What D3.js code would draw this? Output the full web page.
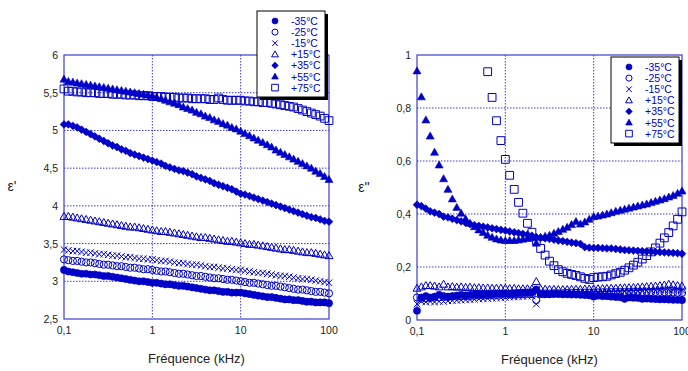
<!DOCTYPE html>
<html>
<head>
<meta charset="utf-8">
<script src="https://cdn.jsdelivr.net/npm/d3@7"></script>
<style>
  body { margin: 0; background: #fff; }
  svg { font-family: "Liberation Sans", Arial, sans-serif; }
</style>
</head>
<body>
<script>
// frequencies (kHz), 20 points per decade
var freq = [0.1, 0.112, 0.126, 0.141, 0.158, 0.178, 0.2, 0.224, 0.251, 0.282, 0.316, 0.355, 0.398, 0.447, 0.501, 0.562, 0.631, 0.708, 0.794, 0.891,
  1, 1.12, 1.26, 1.41, 1.58, 1.78, 2, 2.24, 2.51, 2.82, 3.16, 3.55, 3.98, 4.47, 5.01, 5.62, 6.31, 7.08, 7.94, 8.91,
  10, 11.2, 12.6, 14.1, 15.8, 17.8, 20, 22.4, 25.1, 28.2, 31.6, 35.5, 39.8, 44.7, 50.1, 56.2, 63.1, 70.8, 79.4, 89.1, 100]

var labels = ["-35°C", "-25°C", "-15°C", "+15°C", "+35°C", "+55°C", "+75°C"]
var shapes = ["circleFill", "circle", "cross", "triangle", "diamondFill", "triangleFill", "square"]

var xTicks = [0.1, 1, 10, 100]
var xTickLabels = ["0,1", "1", "10", "100"]
var y1Ticks = [2.5, 3, 3.5, 4, 4.5, 5, 5.5, 6]
var y1TickLabels = ["2,5", "3", "3,5", "4", "4,5", "5", "5,5", "6"]
var y2Ticks = [0, 0.2, 0.4, 0.6, 0.8, 1]
var y2TickLabels = ["0", "0,2", "0,4", "0,6", "0,8", "1"]

// epsilon' (real part)
var ep_m35 = [3.15, 3.13, 3.12, 3.11, 3.10, 3.10, 3.09, 3.09, 3.08, 3.07, 3.07, 3.06, 3.05, 3.04, 3.03, 3.02, 3.01, 3.00, 3.00, 2.99,
  2.98, 2.98, 2.97, 2.96, 2.96, 2.95, 2.94, 2.94, 2.93, 2.92, 2.91, 2.90, 2.89, 2.88, 2.88, 2.87, 2.86, 2.86, 2.85, 2.85,
  2.85, 2.84, 2.83, 2.82, 2.81, 2.80, 2.79, 2.79, 2.78, 2.77, 2.76, 2.76, 2.75, 2.75, 2.74, 2.73, 2.73, 2.72, 2.72, 2.72, 2.71]
var ep_m25 = [3.29, 3.28, 3.27, 3.27, 3.26, 3.25, 3.25, 3.24, 3.23, 3.22, 3.22, 3.21, 3.20, 3.20, 3.19, 3.18, 3.18, 3.17, 3.16, 3.16,
  3.15, 3.14, 3.13, 3.13, 3.12, 3.11, 3.10, 3.10, 3.09, 3.08, 3.07, 3.07, 3.06, 3.05, 3.04, 3.04, 3.03, 3.02, 3.02, 3.01,
  3.00, 2.99, 2.98, 2.98, 2.97, 2.96, 2.95, 2.94, 2.94, 2.93, 2.92, 2.91, 2.90, 2.89, 2.89, 2.88, 2.87, 2.86, 2.86, 2.85, 2.84]
var ep_m15 = [3.42, 3.41, 3.40, 3.40, 3.39, 3.38, 3.38, 3.37, 3.36, 3.36, 3.35, 3.34, 3.34, 3.33, 3.32, 3.32, 3.31, 3.30, 3.30, 3.29,
  3.29, 3.28, 3.27, 3.27, 3.26, 3.25, 3.24, 3.24, 3.23, 3.22, 3.22, 3.21, 3.20, 3.19, 3.19, 3.18, 3.17, 3.17, 3.16, 3.15,
  3.15, 3.14, 3.13, 3.12, 3.11, 3.11, 3.10, 3.09, 3.08, 3.07, 3.07, 3.06, 3.05, 3.04, 3.03, 3.03, 3.02, 3.01, 3.00, 2.99, 2.98]
var ep_p15 = [3.86, 3.86, 3.85, 3.84, 3.83, 3.82, 3.81, 3.80, 3.79, 3.78, 3.77, 3.76, 3.75, 3.74, 3.73, 3.72, 3.72, 3.71, 3.70, 3.69,
  3.68, 3.67, 3.66, 3.66, 3.65, 3.64, 3.63, 3.62, 3.61, 3.60, 3.59, 3.58, 3.58, 3.57, 3.56, 3.55, 3.54, 3.53, 3.53, 3.52,
  3.51, 3.50, 3.49, 3.49, 3.48, 3.47, 3.46, 3.45, 3.44, 3.43, 3.42, 3.42, 3.41, 3.40, 3.39, 3.38, 3.38, 3.37, 3.36, 3.35, 3.34]
var ep_p35 = [5.08, 5.08, 5.06, 5.04, 5.01, 4.98, 4.95, 4.92, 4.89, 4.86, 4.83, 4.80, 4.78, 4.75, 4.73, 4.70, 4.68, 4.66, 4.64, 4.62,
  4.60, 4.58, 4.56, 4.53, 4.51, 4.49, 4.47, 4.46, 4.44, 4.42, 4.39, 4.37, 4.35, 4.33, 4.30, 4.28, 4.26, 4.24, 4.22, 4.19,
  4.16, 4.15, 4.13, 4.11, 4.09, 4.07, 4.05, 4.03, 4.01, 3.99, 3.97, 3.95, 3.93, 3.91, 3.89, 3.87, 3.85, 3.84, 3.82, 3.80, 3.79]
var ep_p55 = [5.68, 5.65, 5.64, 5.63, 5.62, 5.61, 5.60, 5.59, 5.58, 5.57, 5.56, 5.55, 5.54, 5.53, 5.52, 5.51, 5.50, 5.49, 5.48, 5.47,
  5.46, 5.44, 5.42, 5.40, 5.38, 5.36, 5.34, 5.31, 5.29, 5.27, 5.24, 5.22, 5.19, 5.17, 5.14, 5.12, 5.09, 5.07, 5.04, 5.02,
  4.99, 4.96, 4.93, 4.90, 4.87, 4.84, 4.81, 4.78, 4.74, 4.71, 4.68, 4.65, 4.62, 4.59, 4.56, 4.53, 4.50, 4.46, 4.43, 4.39, 4.35]
var ep_p75 = [5.55, 5.52, 5.52, 5.51, 5.51, 5.50, 5.50, 5.50, 5.49, 5.49, 5.49, 5.48, 5.48, 5.48, 5.47, 5.47, 5.47, 5.46, 5.46, 5.46,
  5.45, 5.45, 5.45, 5.44, 5.44, 5.44, 5.43, 5.43, 5.43, 5.42, 5.42, 5.42, 5.42, 5.41, 5.41, 5.43, 5.41, 5.40, 5.40, 5.40,
  5.40, 5.39, 5.39, 5.38, 5.38, 5.37, 5.37, 5.36, 5.35, 5.34, 5.33, 5.32, 5.31, 5.29, 5.27, 5.25, 5.23, 5.21, 5.19, 5.16, 5.13]

// epsilon'' (imaginary part)
var epp_m35 = [0.035, 0.085, 0.09, 0.085, 0.088, 0.095, 0.09, 0.088, 0.09, 0.092, 0.095, 0.093, 0.095, 0.096, 0.097, 0.097, 0.098, 0.099, 0.1, 0.1,
  0.1, 0.1, 0.101, 0.102, 0.103, 0.104, 0.105, 0.115, 0.098, 0.097, 0.097, 0.098, 0.098, 0.097, 0.097, 0.096, 0.096, 0.095, 0.094, 0.093,
  0.088, 0.092, 0.09, 0.09, 0.088, 0.087, 0.086, 0.08, 0.085, 0.084, 0.083, 0.08, 0.081, 0.08, 0.079, 0.078, 0.078, 0.077, 0.076, 0.076, 0.075]
var epp_m25 = [0.085, 0.08, 0.082, 0.083, 0.084, 0.085, 0.086, 0.087, 0.088, 0.088, 0.089, 0.09, 0.09, 0.091, 0.092, 0.092, 0.093, 0.094, 0.094, 0.095,
  0.095, 0.096, 0.096, 0.097, 0.097, 0.098, 0.098, 0.075, 0.1, 0.1, 0.1, 0.101, 0.101, 0.101, 0.102, 0.102, 0.102, 0.103, 0.103, 0.103,
  0.104, 0.104, 0.104, 0.104, 0.105, 0.105, 0.105, 0.105, 0.105, 0.106, 0.106, 0.106, 0.106, 0.106, 0.106, 0.106, 0.105, 0.105, 0.104, 0.103, 0.102]
var epp_m15 = [0.06, 0.07, 0.068, 0.07, 0.068, 0.07, 0.07, 0.072, 0.073, 0.074, 0.075, 0.076, 0.077, 0.078, 0.079, 0.08, 0.081, 0.082, 0.083, 0.084,
  0.085, 0.086, 0.087, 0.088, 0.089, 0.09, 0.091, 0.06, 0.095, 0.096, 0.097, 0.098, 0.099, 0.1, 0.1, 0.101, 0.102, 0.103, 0.104, 0.104,
  0.105, 0.105, 0.106, 0.107, 0.107, 0.108, 0.108, 0.109, 0.109, 0.11, 0.11, 0.111, 0.111, 0.112, 0.112, 0.113, 0.113, 0.114, 0.114, 0.113, 0.112]
var epp_p15 = [0.12, 0.125, 0.13, 0.13, 0.128, 0.125, 0.135, 0.125, 0.126, 0.124, 0.125, 0.123, 0.124, 0.122, 0.122, 0.121, 0.121, 0.12, 0.12, 0.12,
  0.12, 0.119, 0.119, 0.118, 0.118, 0.118, 0.117, 0.145, 0.117, 0.116, 0.116, 0.116, 0.115, 0.115, 0.115, 0.116, 0.116, 0.116, 0.117, 0.117,
  0.118, 0.118, 0.119, 0.119, 0.12, 0.12, 0.121, 0.122, 0.122, 0.123, 0.124, 0.125, 0.126, 0.127, 0.128, 0.13, 0.132, 0.135, 0.133, 0.13, 0.128]
var epp_p35 = [0.435, 0.43, 0.42, 0.41, 0.405, 0.40, 0.39, 0.387, 0.382, 0.377, 0.372, 0.367, 0.362, 0.358, 0.355, 0.352, 0.349, 0.346, 0.343, 0.34,
  0.337, 0.334, 0.331, 0.328, 0.325, 0.322, 0.318, 0.313, 0.31, 0.308, 0.306, 0.303, 0.3, 0.298, 0.295, 0.292, 0.29, 0.287, 0.275, 0.273,
  0.272, 0.272, 0.271, 0.27, 0.27, 0.268, 0.266, 0.264, 0.263, 0.262, 0.261, 0.26, 0.259, 0.258, 0.257, 0.256, 0.255, 0.254, 0.253, 0.252, 0.25]
var epp_p55 = [0.94, 0.842, 0.755, 0.694, 0.633, 0.585, 0.533, 0.493, 0.457, 0.425, 0.403, 0.381, 0.365, 0.352, 0.34, 0.33, 0.32, 0.312, 0.306, 0.302,
  0.30, 0.30, 0.30, 0.302, 0.305, 0.308, 0.31, 0.29, 0.312, 0.316, 0.32, 0.327, 0.334, 0.342, 0.35, 0.36, 0.372, 0.362, 0.37, 0.38,
  0.39, 0.392, 0.396, 0.40, 0.405, 0.41, 0.414, 0.418, 0.422, 0.426, 0.43, 0.434, 0.438, 0.443, 0.448, 0.453, 0.458, 0.464, 0.47, 0.478, 0.487]
var epp_p75 = [null, null, null, null, null, null, null, null, null, null, null, null, null, null, null, null, 0.937, 0.84, 0.752, 0.677,
  0.606, 0.546, 0.493, 0.444, 0.403, 0.365, 0.331, 0.30, 0.27, 0.245, 0.222, 0.205, 0.19, 0.182, 0.176, 0.172, 0.168, 0.163, 0.157, 0.153,
  0.16, 0.162, 0.163, 0.165, 0.17, 0.175, 0.18, 0.188, 0.197, 0.207, 0.218, 0.23, 0.243, 0.257, 0.272, 0.29, 0.31, 0.33, 0.355, 0.38, 0.408]

var blue = "#0000c8"
var frameBlue = "#3c3ccc"

var svg = d3.select("body").append("svg")
  .attr("width", 688)
  .attr("height", 371)

// marker path for a given shape, centred at 0,0
function shapePath(type, k) {
  var r = 3.6 * k
  if (type == "circleFill" || type == "circle") {
    return d3.symbol(d3.symbolCircle, Math.PI * r * r)()
  }
  if (type == "triangle" || type == "triangleFill") {
    return "M0," + (-4 * k) + "L" + (4 * k) + "," + (3 * k) + "L" + (-4 * k) + "," + (3 * k) + "Z"
  }
  if (type == "diamondFill") {
    return "M0," + (-3.9 * k) + "L" + (3.9 * k) + ",0L0," + (3.9 * k) + "L" + (-3.9 * k) + ",0Z"
  }
  if (type == "square") {
    return "M" + (-3.9 * k) + "," + (-3.9 * k) + "H" + (3.9 * k) + "V" + (3.9 * k) + "H" + (-3.9 * k) + "Z"
  }
  var c = 3.3 * k
  return "M" + (-c) + "," + (-c) + "L" + c + "," + c + "M" + (-c) + "," + c + "L" + c + "," + (-c)
}

function styleMarker(sel, type, k) {
  var filled = type.indexOf("Fill") > 0
  sel.attr("d", shapePath(type, k || 1))
    .attr("fill", filled ? blue : "none")
    .attr("stroke", blue)
    .attr("stroke-width", filled ? 0.6 : 1)
}

function drawPanel(opt) {
  var x = d3.scaleLog().domain([0.1, 100]).range([opt.left, opt.right])
  var y = d3.scaleLinear().domain(opt.yDomain).range([opt.bottom, opt.top])
  var g = svg.append("g")

  // grid lines
  g.selectAll("line.vgrid")
    .data(xTicks.slice(1, -1))
    .enter()
    .append("line")
    .attr("x1", function(d){ return x(d) })
    .attr("x2", function(d){ return x(d) })
    .attr("y1", opt.top)
    .attr("y2", opt.bottom)
    .attr("stroke", frameBlue)
    .attr("stroke-dasharray", "1.5,1.5")

  g.selectAll("line.hgrid")
    .data(opt.yTicks.slice(1, -1))
    .enter()
    .append("line")
    .attr("x1", opt.left)
    .attr("x2", opt.right)
    .attr("y1", function(d){ return y(d) })
    .attr("y2", function(d){ return y(d) })
    .attr("stroke", frameBlue)
    .attr("stroke-dasharray", "1.5,1.5")

  // frame
  g.append("rect")
    .attr("x", opt.left)
    .attr("y", opt.top)
    .attr("width", opt.right - opt.left)
    .attr("height", opt.bottom - opt.top)
    .attr("fill", "none")
    .attr("stroke", frameBlue)
    .attr("stroke-width", 1.2)

  // tick labels
  g.selectAll("text.xtick")
    .data(xTicks)
    .enter()
    .append("text")
    .attr("x", function(d){ return x(d) })
    .attr("y", opt.bottom + 15)
    .attr("text-anchor", "middle")
    .attr("font-size", 10.5)
    .attr("fill", "#222")
    .text(function(d, i){ return xTickLabels[i] })

  g.selectAll("text.ytick")
    .data(opt.yTicks)
    .enter()
    .append("text")
    .attr("x", opt.left - 6)
    .attr("y", function(d){ return y(d) + 4 })
    .attr("text-anchor", "end")
    .attr("font-size", 10.5)
    .attr("fill", "#222")
    .text(function(d, i){ return opt.yTickLabels[i] })

  // axis titles
  g.append("text")
    .attr("x", (opt.left + opt.right) / 2)
    .attr("y", opt.bottom + 44)
    .attr("text-anchor", "middle")
    .attr("font-size", 13)
    .attr("fill", "#222")
    .text("Fréquence (kHz)")

  g.append("text")
    .attr("x", opt.yTitleX)
    .attr("y", (opt.top + opt.bottom) / 2 + 4)
    .attr("text-anchor", "middle")
    .attr("font-size", 14)
    .attr("fill", "#222")
    .text(opt.yTitle)

  // series, drawn from the coolest to the hottest
  opt.series.forEach(function(values, s) {
    var pts = freq.map(function(f, i){ return {f: f, v: values[i]} })
      .filter(function(d){ return d.v != null })
    g.selectAll("path.s" + s)
      .data(pts)
      .enter()
      .append("path")
      .attr("transform", function(d){ return "translate(" + x(d.f) + "," + y(d.v) + ")" })
      .call(styleMarker, shapes[s])
  })

  // legend with drop shadow
  var lg = g.append("g").attr("transform", "translate(" + opt.legX + "," + opt.legY + ")")
  lg.append("rect")
    .attr("x", 3).attr("y", 3)
    .attr("width", 68).attr("height", 86)
    .attr("fill", "#000")
  lg.append("rect")
    .attr("width", 68).attr("height", 86)
    .attr("fill", "#fff")
    .attr("stroke", "#000")
    .attr("stroke-width", 1)
  labels.forEach(function(lab, i) {
    var ly = 10 + i * 11.1
    lg.append("path")
      .attr("transform", "translate(18," + ly + ")")
      .call(styleMarker, shapes[i], 0.85)
    lg.append("text")
      .attr("x", 34)
      .attr("y", ly + 4)
      .attr("font-size", 10.5)
      .attr("fill", blue)
      .text(lab)
  })
}

drawPanel({
  left: 64, right: 329, top: 55, bottom: 319,
  yDomain: [2.5, 6], yTicks: y1Ticks, yTickLabels: y1TickLabels,
  yTitle: "ε'", yTitleX: 12,
  series: [ep_m35, ep_m25, ep_m15, ep_p15, ep_p35, ep_p55, ep_p75],
  legX: 257, legY: 11
})

drawPanel({
  left: 417, right: 682, top: 55, bottom: 320,
  yDomain: [0, 1], yTicks: y2Ticks, yTickLabels: y2TickLabels,
  yTitle: "ε''", yTitleX: 364,
  series: [epp_m35, epp_m25, epp_m15, epp_p15, epp_p35, epp_p55, epp_p75],
  legX: 611, legY: 57
})
</script>
</body>
</html>
